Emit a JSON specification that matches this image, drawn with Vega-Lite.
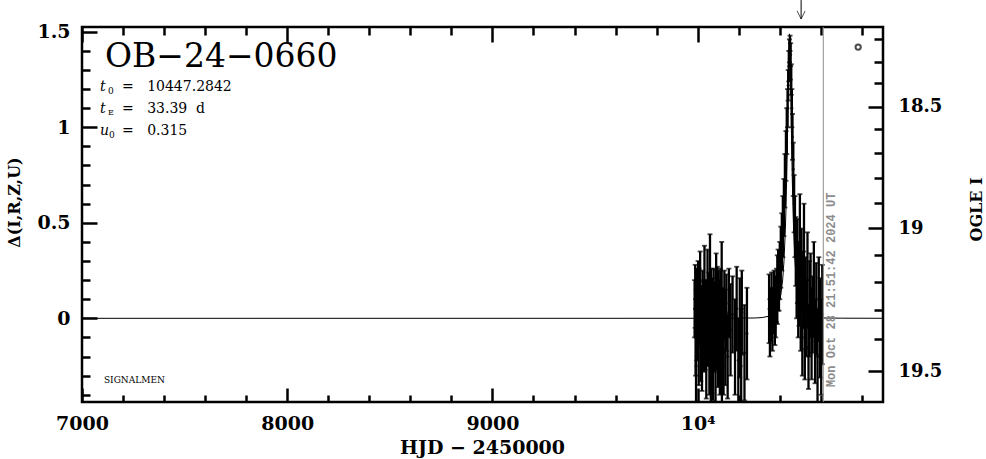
{
  "$schema": "https://vega.github.io/schema/vega-lite/v6.json",
  "width": 801,
  "height": 375,
  "autosize": {"type": "none"},
  "padding": {"left": 82, "top": 27, "right": 103, "bottom": 57},
  "background": "white",
  "config": {
    "view": {"stroke": "black", "strokeWidth": 2.5},
    "axis": {
      "domain": false,
      "grid": false,
      "labelFlush": false,
      "tickColor": "black",
      "tickWidth": 2.5,
      "labelColor": "black",
      "labelFont": "DejaVu Serif",
      "labelFontWeight": "bold",
      "labelFontSize": 19,
      "titleFont": "DejaVu Serif",
      "titleFontWeight": "bold",
      "titleColor": "black"
    }
  },
  "datasets": {
    "one": [{}],
    "obs": [
      {"t": 9985, "d": 0.05, "lo": -0.10, "hi": 0.20},
      {"t": 9988, "d": 0.15, "lo": -0.05, "hi": 0.28},
      {"t": 9990, "d": -0.10, "lo": -0.30, "hi": 0.10},
      {"t": 9992, "d": -0.25, "lo": -0.55, "hi": 0.05},
      {"t": 9994, "d": 0.12, "lo": -0.02, "hi": 0.26},
      {"t": 9996, "d": 0.02, "lo": -0.22, "hi": 0.24},
      {"t": 9998, "d": -0.02, "lo": -0.20, "hi": 0.16},
      {"t": 10000, "d": 0.10, "lo": -0.08, "hi": 0.25},
      {"t": 10002, "d": 0.08, "lo": -0.14, "hi": 0.30},
      {"t": 10005, "d": -0.15, "lo": -0.35, "hi": 0.05},
      {"t": 10007, "d": 0.12, "lo": -0.06, "hi": 0.26},
      {"t": 10009, "d": 0.03, "lo": -0.13, "hi": 0.19},
      {"t": 10012, "d": 0.15, "lo": -0.05, "hi": 0.35},
      {"t": 10015, "d": -0.08, "lo": -0.33, "hi": 0.17},
      {"t": 10018, "d": 0.05, "lo": -0.07, "hi": 0.17},
      {"t": 10021, "d": -0.20, "lo": -0.38, "hi": -0.02},
      {"t": 10024, "d": 0.10, "lo": -0.05, "hi": 0.25},
      {"t": 10027, "d": 0.00, "lo": -0.20, "hi": 0.20},
      {"t": 10030, "d": -0.12, "lo": -0.28, "hi": 0.04},
      {"t": 10033, "d": 0.18, "lo": -0.02, "hi": 0.38},
      {"t": 10036, "d": -0.05, "lo": -0.27, "hi": 0.17},
      {"t": 10039, "d": 0.06, "lo": -0.08, "hi": 0.20},
      {"t": 10042, "d": -0.22, "lo": -0.42, "hi": -0.02},
      {"t": 10045, "d": 0.02, "lo": -0.16, "hi": 0.20},
      {"t": 10048, "d": 0.12, "lo": -0.12, "hi": 0.36},
      {"t": 10051, "d": -0.10, "lo": -0.25, "hi": 0.05},
      {"t": 10054, "d": 0.04, "lo": -0.16, "hi": 0.24},
      {"t": 10057, "d": -0.18, "lo": -0.40, "hi": 0.04},
      {"t": 10060, "d": 0.20, "lo": -0.04, "hi": 0.44},
      {"t": 10063, "d": -0.03, "lo": -0.19, "hi": 0.13},
      {"t": 10064, "d": -0.20, "lo": -0.50, "hi": 0.10},
      {"t": 10066, "d": 0.08, "lo": -0.10, "hi": 0.26},
      {"t": 10069, "d": -0.14, "lo": -0.39, "hi": 0.11},
      {"t": 10072, "d": 0.01, "lo": -0.19, "hi": 0.21},
      {"t": 10075, "d": -0.25, "lo": -0.43, "hi": -0.07},
      {"t": 10078, "d": 0.10, "lo": -0.06, "hi": 0.26},
      {"t": 10081, "d": -0.06, "lo": -0.28, "hi": 0.16},
      {"t": 10084, "d": 0.05, "lo": -0.09, "hi": 0.19},
      {"t": 10087, "d": -0.20, "lo": -0.44, "hi": 0.04},
      {"t": 10090, "d": 0.14, "lo": -0.06, "hi": 0.34},
      {"t": 10093, "d": -0.09, "lo": -0.27, "hi": 0.09},
      {"t": 10096, "d": 0.02, "lo": -0.23, "hi": 0.27},
      {"t": 10099, "d": -0.16, "lo": -0.36, "hi": 0.04},
      {"t": 10102, "d": 0.09, "lo": -0.07, "hi": 0.25},
      {"t": 10105, "d": -0.02, "lo": -0.24, "hi": 0.20},
      {"t": 10108, "d": -0.22, "lo": -0.40, "hi": -0.04},
      {"t": 10111, "d": 0.06, "lo": -0.14, "hi": 0.26},
      {"t": 10114, "d": -0.12, "lo": -0.36, "hi": 0.12},
      {"t": 10117, "d": 0.15, "lo": -0.10, "hi": 0.40},
      {"t": 10118, "d": -0.22, "lo": -0.52, "hi": 0.08},
      {"t": 10120, "d": -0.05, "lo": -0.25, "hi": 0.15},
      {"t": 10123, "d": 0.00, "lo": -0.16, "hi": 0.16},
      {"t": 10126, "d": -0.18, "lo": -0.40, "hi": 0.04},
      {"t": 10130, "d": 0.07, "lo": -0.11, "hi": 0.25},
      {"t": 10135, "d": -0.10, "lo": -0.35, "hi": 0.15},
      {"t": 10140, "d": 0.03, "lo": -0.17, "hi": 0.23},
      {"t": 10146, "d": -0.20, "lo": -0.42, "hi": 0.02},
      {"t": 10152, "d": 0.08, "lo": -0.10, "hi": 0.26},
      {"t": 10160, "d": -0.06, "lo": -0.30, "hi": 0.18},
      {"t": 10170, "d": 0.02, "lo": -0.18, "hi": 0.22},
      {"t": 10182, "d": -0.15, "lo": -0.40, "hi": 0.10},
      {"t": 10190, "d": 0.05, "lo": -0.17, "hi": 0.27},
      {"t": 10198, "d": -0.22, "lo": -0.44, "hi": 0.00},
      {"t": 10205, "d": -0.05, "lo": -0.31, "hi": 0.21},
      {"t": 10212, "d": -0.25, "lo": -0.55, "hi": 0.05},
      {"t": 10215, "d": 0.03, "lo": -0.19, "hi": 0.25},
      {"t": 10228, "d": -0.18, "lo": -0.43, "hi": 0.07},
      {"t": 10240, "d": -0.08, "lo": -0.32, "hi": 0.16},
      {"t": 10348, "d": 0.05, "lo": -0.13, "hi": 0.23},
      {"t": 10352, "d": -0.05, "lo": -0.20, "hi": 0.10},
      {"t": 10356, "d": 0.02, "lo": -0.12, "hi": 0.16},
      {"t": 10360, "d": 0.08, "lo": -0.08, "hi": 0.24},
      {"t": 10364, "d": -0.02, "lo": -0.17, "hi": 0.13},
      {"t": 10368, "d": 0.04, "lo": -0.08, "hi": 0.16},
      {"t": 10372, "d": 0.10, "lo": -0.05, "hi": 0.25},
      {"t": 10376, "d": 0.00, "lo": -0.14, "hi": 0.14},
      {"t": 10380, "d": 0.06, "lo": -0.10, "hi": 0.22},
      {"t": 10384, "d": 0.12, "lo": -0.02, "hi": 0.26},
      {"t": 10388, "d": 0.15, "lo": -0.03, "hi": 0.33},
      {"t": 10392, "d": 0.20, "lo": 0.04, "hi": 0.36},
      {"t": 10396, "d": 0.18, "lo": 0.04, "hi": 0.32},
      {"t": 10400, "d": 0.25, "lo": 0.10, "hi": 0.40},
      {"t": 10405, "d": 0.32, "lo": 0.16, "hi": 0.48},
      {"t": 10410, "d": 0.40, "lo": 0.25, "hi": 0.55},
      {"t": 10415, "d": 0.48, "lo": 0.32, "hi": 0.64},
      {"t": 10420, "d": 0.58, "lo": 0.43, "hi": 0.73},
      {"t": 10425, "d": 0.72, "lo": 0.58, "hi": 0.86},
      {"t": 10430, "d": 0.85, "lo": 0.72, "hi": 0.98},
      {"t": 10434, "d": 0.98, "lo": 0.86, "hi": 1.10},
      {"t": 10438, "d": 1.10, "lo": 1.00, "hi": 1.20},
      {"t": 10441, "d": 1.22, "lo": 1.14, "hi": 1.30},
      {"t": 10444, "d": 1.32, "lo": 1.24, "hi": 1.40},
      {"t": 10447, "d": 1.40, "lo": 1.34, "hi": 1.46},
      {"t": 10450, "d": 1.44, "lo": 1.40, "hi": 1.48},
      {"t": 10453, "d": 1.38, "lo": 1.32, "hi": 1.44},
      {"t": 10456, "d": 1.25, "lo": 1.17, "hi": 1.33},
      {"t": 10459, "d": 1.10, "lo": 1.00, "hi": 1.20},
      {"t": 10462, "d": 0.95, "lo": 0.83, "hi": 1.07},
      {"t": 10466, "d": 0.78, "lo": 0.64, "hi": 0.92},
      {"t": 10470, "d": 0.60, "lo": 0.45, "hi": 0.75},
      {"t": 10474, "d": 0.48, "lo": 0.32, "hi": 0.64},
      {"t": 10478, "d": 0.35, "lo": 0.17, "hi": 0.53},
      {"t": 10482, "d": 0.20, "lo": 0.00, "hi": 0.40},
      {"t": 10486, "d": 0.30, "lo": 0.08, "hi": 0.52},
      {"t": 10490, "d": 0.10, "lo": -0.10, "hi": 0.30},
      {"t": 10494, "d": 0.18, "lo": -0.04, "hi": 0.40},
      {"t": 10498, "d": 0.40, "lo": 0.15, "hi": 0.65},
      {"t": 10502, "d": 0.05, "lo": -0.17, "hi": 0.27},
      {"t": 10506, "d": 0.25, "lo": 0.03, "hi": 0.47},
      {"t": 10510, "d": -0.05, "lo": -0.30, "hi": 0.20},
      {"t": 10514, "d": 0.15, "lo": -0.05, "hi": 0.35},
      {"t": 10518, "d": 0.35, "lo": 0.10, "hi": 0.60},
      {"t": 10522, "d": -0.10, "lo": -0.32, "hi": 0.12},
      {"t": 10526, "d": 0.08, "lo": -0.16, "hi": 0.32},
      {"t": 10530, "d": 0.00, "lo": -0.20, "hi": 0.20},
      {"t": 10535, "d": 0.20, "lo": -0.05, "hi": 0.45},
      {"t": 10540, "d": -0.15, "lo": -0.37, "hi": 0.07},
      {"t": 10545, "d": 0.05, "lo": -0.20, "hi": 0.30},
      {"t": 10550, "d": 0.12, "lo": -0.10, "hi": 0.34},
      {"t": 10555, "d": -0.08, "lo": -0.32, "hi": 0.16},
      {"t": 10560, "d": 0.02, "lo": -0.18, "hi": 0.22},
      {"t": 10566, "d": 0.15, "lo": -0.10, "hi": 0.40},
      {"t": 10572, "d": -0.12, "lo": -0.34, "hi": 0.10},
      {"t": 10578, "d": 0.05, "lo": -0.19, "hi": 0.29},
      {"t": 10584, "d": -0.20, "lo": -0.45, "hi": 0.05},
      {"t": 10590, "d": 0.10, "lo": -0.12, "hi": 0.32},
      {"t": 10596, "d": -0.05, "lo": -0.31, "hi": 0.21},
      {"t": 10602, "d": -0.15, "lo": -0.40, "hi": 0.10},
      {"t": 10607, "d": 0.02, "lo": -0.24, "hi": 0.28}
    ],
    "model": [
      {"t": 7000, "d": 0},
      {"t": 9500, "d": 0.0001},
      {"t": 10000, "d": 0.0002},
      {"t": 10100, "d": 0.0004},
      {"t": 10200, "d": 0.001},
      {"t": 10280, "d": 0.0018},
      {"t": 10314, "d": 0.004},
      {"t": 10347, "d": 0.011},
      {"t": 10364, "d": 0.0195},
      {"t": 10380, "d": 0.038},
      {"t": 10397, "d": 0.082},
      {"t": 10405.5, "d": 0.126},
      {"t": 10414, "d": 0.201},
      {"t": 10420.6, "d": 0.301},
      {"t": 10427.3, "d": 0.467},
      {"t": 10430.6, "d": 0.589},
      {"t": 10433.9, "d": 0.748},
      {"t": 10437.3, "d": 0.948},
      {"t": 10440.6, "d": 1.182},
      {"t": 10443.9, "d": 1.396},
      {"t": 10447.3, "d": 1.489},
      {"t": 10450.6, "d": 1.396},
      {"t": 10454.0, "d": 1.182},
      {"t": 10457.3, "d": 0.948},
      {"t": 10460.6, "d": 0.748},
      {"t": 10464.0, "d": 0.589},
      {"t": 10467.3, "d": 0.467},
      {"t": 10474.0, "d": 0.301},
      {"t": 10480.7, "d": 0.201},
      {"t": 10489.0, "d": 0.126},
      {"t": 10497.4, "d": 0.082},
      {"t": 10514.1, "d": 0.038},
      {"t": 10530.8, "d": 0.0195},
      {"t": 10547.5, "d": 0.011},
      {"t": 10580.8, "d": 0.004},
      {"t": 10614.2, "d": 0.0018},
      {"t": 10700, "d": 0.0008},
      {"t": 10903, "d": 0.0002}
    ]
  },
  "layer": [
    {
      "data": {"name": "model"},
      "mark": {"type": "line", "color": "black", "strokeWidth": 1, "clip": true},
      "encoding": {
        "x": {
          "field": "t", "type": "quantitative",
          "scale": {"domain": [7000, 10903], "nice": false, "zero": false},
          "axis": {
            "orient": "bottom",
            "values": [7000, 7200, 7400, 7600, 7800, 8000, 8200, 8400, 8600, 8800, 9000, 9200, 9400, 9600, 9800, 10000, 10200, 10400, 10600, 10800],
            "labelExpr": "datum.value === 10000 ? '10⁴' : (datum.value % 1000 === 0 ? format(datum.value, 'd') : '')",
            "tickSize": {"condition": {"test": "datum.value % 1000 === 0", "value": -14}, "value": -7},
            "labelPadding": 26,
            "labelBaseline": "top",
            "title": "HJD − 2450000",
            "titleFontSize": 19,
            "titleX": 400,
            "titleY": 45,
            "titleBaseline": "middle",
            "titleAlign": "center"
          }
        },
        "y": {
          "field": "d", "type": "quantitative",
          "scale": {"domain": [-0.438, 1.525], "nice": false, "zero": false},
          "axis": {
            "orient": "left",
            "values": [-0.4, -0.3, -0.2, -0.1, 0, 0.1, 0.2, 0.3, 0.4, 0.5, 0.6, 0.7, 0.8, 0.9, 1, 1.1, 1.2, 1.3, 1.4, 1.5],
            "labelExpr": "indexof([0, 0.5, 1, 1.5], datum.value) >= 0 ? format(datum.value, '~g') : ''",
            "tickSize": {"condition": {"test": "indexof([0, 0.5, 1, 1.5], datum.value) >= 0", "value": -15}, "value": -8},
            "labelPadding": 27,
            "title": "Δ(I,R,Z,U)",
            "titleFontSize": 16,
            "titleAngle": 270,
            "titleX": -68,
            "titleY": 175,
            "titleBaseline": "middle",
            "titleAlign": "center"
          }
        }
      }
    },
    {
      "data": {"name": "obs"},
      "mark": {"type": "rule", "color": "black", "strokeWidth": 2.3, "clip": true},
      "encoding": {
        "x": {
          "field": "t", "type": "quantitative",
          "axis": {
            "orient": "top",
            "values": [7000, 7200, 7400, 7600, 7800, 8000, 8200, 8400, 8600, 8800, 9000, 9200, 9400, 9600, 9800, 10000, 10200, 10400, 10600, 10800],
            "labels": false,
            "tickSize": {"condition": {"test": "datum.value % 1000 === 0", "value": -15}, "value": -8},
            "title": null
          }
        },
        "y": {
          "field": "lo", "type": "quantitative",
          "axis": {
            "orient": "right",
            "values": [1.461, 1.343, 1.23, 1.108, 0.989, 0.867, 0.736, 0.605, 0.471, 0.331, 0.192, 0.043, -0.11, -0.276],
            "labelExpr": "datum.value === 1.108 ? '18.5' : (datum.value === 0.471 ? '19' : (datum.value === -0.276 ? '19.5' : ''))",
            "tickSize": {"condition": {"test": "datum.value === 1.108 || datum.value === 0.471 || datum.value === -0.276", "value": -15}, "value": -9},
            "labelPadding": 30,
            "labelFontSize": 18,
            "labelAlign": "left",
            "title": "OGLE I",
            "titleFontSize": 16,
            "titleAngle": 270,
            "titleX": 93,
            "titleY": 182,
            "titleBaseline": "middle",
            "titleAlign": "center"
          }
        },
        "y2": {"field": "hi"}
      }
    },
    {
      "data": {"name": "obs"},
      "mark": {"type": "tick", "orient": "horizontal", "color": "black", "size": 5, "thickness": 1.8, "clip": true},
      "encoding": {
        "x": {"field": "t", "type": "quantitative", "axis": null},
        "y": {"field": "lo", "type": "quantitative", "axis": null}
      }
    },
    {
      "data": {"name": "obs"},
      "mark": {"type": "tick", "orient": "horizontal", "color": "black", "size": 5, "thickness": 1.8, "clip": true},
      "encoding": {
        "x": {"field": "t", "type": "quantitative", "axis": null},
        "y": {"field": "hi", "type": "quantitative", "axis": null}
      }
    },
    {
      "data": {"name": "obs"},
      "mark": {"type": "point", "filled": true, "color": "black", "size": 10, "clip": true},
      "encoding": {
        "x": {"field": "t", "type": "quantitative", "axis": null},
        "y": {"field": "d", "type": "quantitative", "axis": null}
      }
    },
    {
      "data": {"name": "one"},
      "mark": {"type": "rule", "color": "#8c8c8c", "strokeWidth": 1},
      "encoding": {"x": {"datum": 10612, "type": "quantitative", "axis": null}}
    },
    {
      "data": {"name": "one"},
      "mark": {"type": "text", "angle": 270, "align": "left", "baseline": "middle", "font": "Liberation Mono", "fontWeight": "bold", "fontSize": 12, "color": "#8c8c8c"},
      "encoding": {
        "x": {"datum": 10647.6, "type": "quantitative", "axis": null},
        "y": {"datum": -0.36, "type": "quantitative", "axis": null},
        "text": {"value": "Mon Oct 28 21:51:42 2024 UT"}
      }
    },
    {
      "data": {"name": "one"},
      "mark": {"type": "text", "align": "left", "baseline": "middle", "font": "DejaVu Serif", "fontSize": 33, "color": "black"},
      "encoding": {
        "x": {"datum": 7112, "type": "quantitative", "axis": null},
        "y": {"datum": 1.368, "type": "quantitative", "axis": null},
        "text": {"value": "OB−24−0660"}
      }
    },
    {
      "data": {"name": "one"},
      "mark": {"type": "text", "align": "left", "baseline": "middle", "font": "DejaVu Serif", "fontStyle": "italic", "fontSize": 14, "color": "black"},
      "encoding": {
        "x": {"datum": 7088, "type": "quantitative", "axis": null},
        "y": {"datum": 1.211, "type": "quantitative", "axis": null},
        "text": {"value": "t"}
      }
    },
    {
      "data": {"name": "one"},
      "mark": {"type": "text", "align": "left", "baseline": "middle", "font": "DejaVu Serif", "fontSize": 9, "dx": 8, "dy": 4, "color": "black"},
      "encoding": {
        "x": {"datum": 7088, "type": "quantitative", "axis": null},
        "y": {"datum": 1.211, "type": "quantitative", "axis": null},
        "text": {"value": "0"}
      }
    },
    {
      "data": {"name": "one"},
      "mark": {"type": "text", "align": "left", "baseline": "middle", "font": "DejaVu Serif", "fontSize": 14, "dx": 22, "color": "black"},
      "encoding": {
        "x": {"datum": 7088, "type": "quantitative", "axis": null},
        "y": {"datum": 1.211, "type": "quantitative", "axis": null},
        "text": {"value": "=\u00a0\u00a0\u00a010447.2842"}
      }
    },
    {
      "data": {"name": "one"},
      "mark": {"type": "text", "align": "left", "baseline": "middle", "font": "DejaVu Serif", "fontStyle": "italic", "fontSize": 14, "color": "black"},
      "encoding": {
        "x": {"datum": 7088, "type": "quantitative", "axis": null},
        "y": {"datum": 1.096, "type": "quantitative", "axis": null},
        "text": {"value": "t"}
      }
    },
    {
      "data": {"name": "one"},
      "mark": {"type": "text", "align": "left", "baseline": "middle", "font": "DejaVu Serif", "fontSize": 8, "dx": 8, "dy": 4, "color": "black"},
      "encoding": {
        "x": {"datum": 7088, "type": "quantitative", "axis": null},
        "y": {"datum": 1.096, "type": "quantitative", "axis": null},
        "text": {"value": "E"}
      }
    },
    {
      "data": {"name": "one"},
      "mark": {"type": "text", "align": "left", "baseline": "middle", "font": "DejaVu Serif", "fontSize": 14, "dx": 22, "color": "black"},
      "encoding": {
        "x": {"datum": 7088, "type": "quantitative", "axis": null},
        "y": {"datum": 1.096, "type": "quantitative", "axis": null},
        "text": {"value": "=\u00a0\u00a0\u00a033.39\u00a0\u00a0d"}
      }
    },
    {
      "data": {"name": "one"},
      "mark": {"type": "text", "align": "left", "baseline": "middle", "font": "DejaVu Serif", "fontStyle": "italic", "fontSize": 14, "color": "black"},
      "encoding": {
        "x": {"datum": 7088, "type": "quantitative", "axis": null},
        "y": {"datum": 0.981, "type": "quantitative", "axis": null},
        "text": {"value": "u"}
      }
    },
    {
      "data": {"name": "one"},
      "mark": {"type": "text", "align": "left", "baseline": "middle", "font": "DejaVu Serif", "fontSize": 9, "dx": 9, "dy": 4, "color": "black"},
      "encoding": {
        "x": {"datum": 7088, "type": "quantitative", "axis": null},
        "y": {"datum": 0.981, "type": "quantitative", "axis": null},
        "text": {"value": "0"}
      }
    },
    {
      "data": {"name": "one"},
      "mark": {"type": "text", "align": "left", "baseline": "middle", "font": "DejaVu Serif", "fontSize": 14, "dx": 22, "color": "black"},
      "encoding": {
        "x": {"datum": 7088, "type": "quantitative", "axis": null},
        "y": {"datum": 0.981, "type": "quantitative", "axis": null},
        "text": {"value": "=\u00a0\u00a0\u00a00.315"}
      }
    },
    {
      "data": {"name": "one"},
      "mark": {"type": "text", "align": "left", "baseline": "middle", "font": "DejaVu Serif", "fontSize": 9, "color": "black"},
      "encoding": {
        "x": {"datum": 7107, "type": "quantitative", "axis": null},
        "y": {"datum": -0.323, "type": "quantitative", "axis": null},
        "text": {"value": "SIGNALMEN"}
      }
    },
    {
      "data": {"name": "one"},
      "mark": {"type": "point", "shape": "circle", "filled": false, "color": "black", "strokeWidth": 2, "size": 28},
      "encoding": {
        "x": {"datum": 10782, "type": "quantitative", "axis": null},
        "y": {"datum": 1.42, "type": "quantitative", "axis": null}
      }
    },
    {
      "data": {"name": "one"},
      "mark": {"type": "rule", "color": "black", "strokeWidth": 1, "clip": false},
      "encoding": {
        "x": {"datum": 10504, "type": "quantitative", "axis": null},
        "y": {"datum": 1.567, "type": "quantitative", "axis": null},
        "y2": {"datum": 1.666}
      }
    },
    {
      "data": {"name": "one"},
      "mark": {"type": "point", "shape": "M-0.5,-1L0,0L0.5,-1", "filled": false, "color": "black", "strokeWidth": 1, "size": 256, "clip": false},
      "encoding": {
        "x": {"datum": 10504, "type": "quantitative", "axis": null},
        "y": {"datum": 1.567, "type": "quantitative", "axis": null}
      }
    }
  ],
  "resolve": {"axis": {"x": "independent", "y": "independent"}}
}
